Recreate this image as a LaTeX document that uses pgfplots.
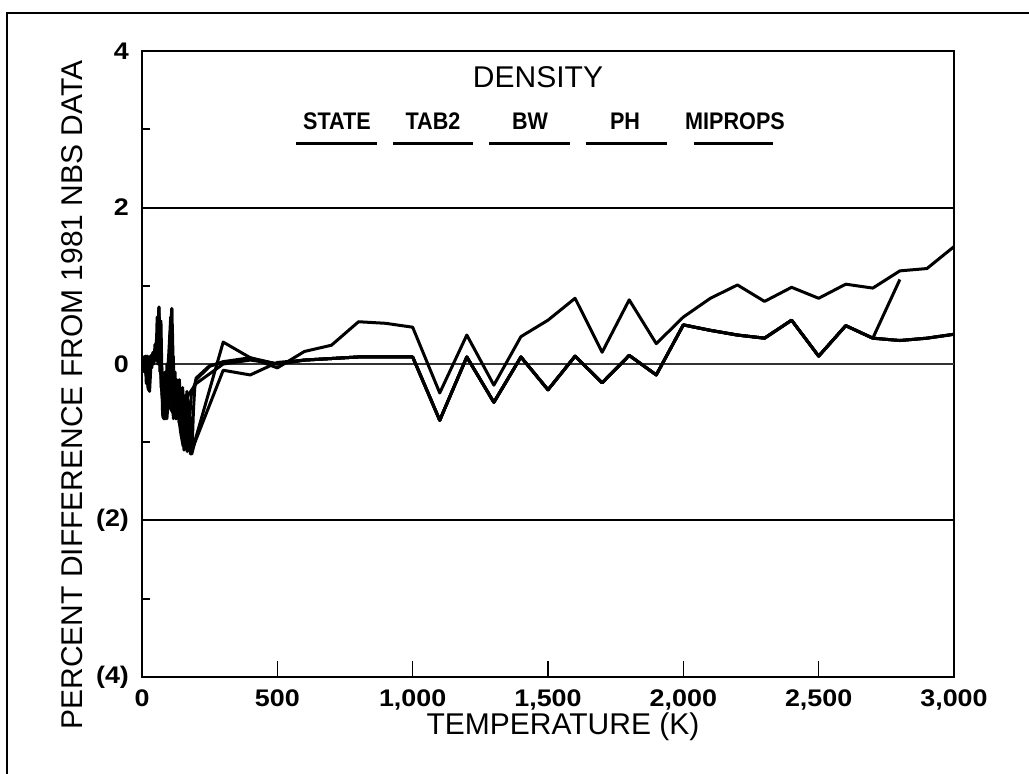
\documentclass[border=0pt]{standalone}
\usepackage{fontspec}
\setmainfont{Liberation Sans}
\newfontfamily\tickfont{Liberation Sans}[FakeStretch=1.12]
\newfontfamily\legfont{Liberation Sans}[FakeStretch=0.9]
\usepackage{pgfplots}
\pgfplotsset{compat=1.18}
\newcommand\tk[1]{\mbox{\tickfont\bfseries\fontsize{12}{12}\selectfont #1}}
\newcommand\legtxt[1]{{\legfont\bfseries\fontsize{12}{12}\selectfont #1}}
\begin{document}
\begin{tikzpicture}[x=0.5pt,y=0.5pt]
\useasboundingbox (0,0) rectangle (1029,774);
\draw[line width=1pt] (7,-60) -- (7,761) -- (1100,761);
\begin{axis}[
  at={(71pt,48.5pt)}, anchor=south west,
  scale only axis, width=406pt, height=313pt,
  xmin=0, xmax=3000, ymin=-4, ymax=4,
  axis line style={line width=1.1pt},
  xtick={0,500,1000,1500,2000,2500,3000},
  xticklabels={{\tk{0}},{\tk{500}},{\tk{1,000}},{\tk{1,500}},{\tk{2,000}},{\tk{2,500}},{\tk{3,000}}},
  ytick={-4,-2,0,2,4},
  yticklabels={{\tk{(4)}},{\tk{(2)}},{\tk{0}},{\tk{2}},{\tk{4}}},
  minor ytick={-3,-1,1,3},
  tick align=inside,
  xtick pos=left, ytick pos=left,
  major tick length=8pt, minor tick length=4pt,
  tick style={line width=0.8pt, black},
  xticklabel style={yshift=-3pt},
  yticklabel style={xshift=-3pt},
  clip=true,
]
\draw[line width=1pt] (axis cs:0,2) -- (axis cs:3000,2);
\draw[line width=1pt] (axis cs:0,-2) -- (axis cs:3000,-2);
\draw[line width=0.6pt, black!80] (axis cs:0,0) -- (axis cs:3000,0);
% series A (upper)
\addplot[black, line width=1.5pt, line join=round] coordinates {
(0,0.05)(8,-0.05)(15,0.1)(22,-0.3)(28,-0.35)(34,0.05)(42,0.1)(50,0.2)(58,0.45)(63,0.73)(67,0.0)(72,-0.3)(78,-0.6)(85,-0.7)(92,-0.4)(98,-0.2)(104,0.3)(110,0.71)(114,-0.2)(120,-0.55)(128,-0.45)(136,-0.7)(144,-0.9)(152,-1.05)(160,-0.8)(168,-1.1)(176,-0.9)(184,-1.15)
(200,-0.93)(300,0.28)(400,0.08)(500,-0.05)(600,0.16)(700,0.24)(800,0.54)(900,0.52)(1000,0.47)(1100,-0.37)(1200,0.37)(1300,-0.27)(1400,0.35)(1500,0.56)(1600,0.84)(1700,0.15)(1800,0.82)(1900,0.26)(2000,0.6)(2100,0.84)(2200,1.01)(2300,0.8)(2400,0.98)(2500,0.84)(2600,1.02)(2700,0.97)(2800,1.19)(2900,1.22)(3000,1.5)
};
% series B (lower)
\addplot[black, line width=1.5pt, line join=round] coordinates {
(0,0.1)(10,0.05)(18,-0.2)(25,-0.3)(32,0.1)(40,0.12)(48,0.05)(56,0.3)(62,0.65)(66,-0.1)(70,0.55)(76,-0.65)(82,-0.2)(88,-0.6)(95,-0.1)(100,0.2)(106,0.6)(110,-0.3)(116,-0.7)(124,-0.3)(130,-0.6)(138,-0.2)(146,-0.8)(154,-0.4)(160,-1.0)(166,-0.6)(172,-1.1)(180,-0.7)
(190,-1.05)(300,-0.08)(400,-0.14)(500,0.02)(600,0.05)(700,0.07)(800,0.09)(900,0.09)(1000,0.09)(1100,-0.72)(1200,0.09)(1300,-0.49)(1400,0.09)(1500,-0.33)(1600,0.1)(1700,-0.24)(1800,0.11)(1900,-0.14)(2000,0.5)(2100,0.43)(2200,0.37)(2300,0.33)(2400,0.56)(2500,0.1)(2600,0.49)(2700,0.33)(2800,0.3)(2900,0.33)(3000,0.38)
};
% series C
\addplot[black, line width=1.5pt, line join=round] coordinates {
(0,0.0)(12,0.1)(20,-0.15)(30,0.05)(40,0.1)(52,0.05)(60,0.2)(68,0.4)(74,-0.2)(80,-0.7)(86,-0.3)(92,-0.7)(100,-0.3)(108,0.1)(112,0.5)(118,-0.5)(126,-0.7)(134,-0.35)(142,-0.6)(150,-0.3)(158,-0.75)(166,-0.35)(174,-0.8)(182,-0.4)
(200,-0.2)(250,-0.03)(300,0.03)(400,0.08)(500,0.0)(600,0.05)(700,0.07)(800,0.09)(900,0.09)(1000,0.09)(1100,-0.72)(1200,0.09)(1300,-0.49)(1400,0.09)(1500,-0.33)(1600,0.1)(1700,-0.24)(1800,0.11)(1900,-0.14)(2000,0.5)(2100,0.43)(2200,0.37)(2300,0.33)(2400,0.56)(2500,0.1)(2600,0.49)(2700,0.33)(2800,1.08)
};
% series D
\addplot[black, line width=1.5pt, line join=round] coordinates {
(0,0.05)(10,-0.1)(20,0.1)(30,0.0)(45,0.1)(60,0.05)(70,0.1)(80,-0.55)(90,-0.65)(100,-0.5)(110,-0.6)(120,-0.65)(130,-0.5)(140,-0.68)(150,-0.45)(160,-0.55)(170,-0.4)(180,-0.35)
(200,-0.25)(300,0.0)(400,0.05)(500,0.0)(600,0.05)(700,0.07)(800,0.09)(900,0.09)(1000,0.09)(1100,-0.72)(1200,0.09)(1300,-0.49)(1400,0.09)(1500,-0.33)(1600,0.1)(1700,-0.24)(1800,0.11)(1900,-0.14)(2000,0.5)(2100,0.43)(2200,0.37)(2300,0.33)(2400,0.56)(2500,0.1)(2600,0.49)(2700,0.33)(2800,0.3)(2900,0.33)(3000,0.38)
};
% series E
\addplot[black, line width=1.5pt, line join=round] coordinates {
(0,-0.05)(4,0.08)(8,-0.1)(12,0.05)(16,-0.25)(20,0.0)(24,-0.33)(28,0.02)(32,0.1)(36,-0.05)(40,0.15)(44,0.0)(48,0.25)(52,0.05)(56,0.6)(59,0.0)(62,0.72)(65,0.1)(68,0.5)(71,-0.3)(74,-0.1)(77,-0.68)(80,-0.2)(83,-0.7)(86,-0.1)(89,-0.65)(92,0.0)(95,-0.6)(98,-0.05)(101,-0.5)(104,0.4)(107,-0.4)(110,0.7)(113,-0.3)(116,0.1)(119,-0.6)(122,-0.1)(125,-0.7)(128,-0.2)(131,-0.65)(134,-0.3)(137,-0.75)(140,-0.35)(143,-0.8)(146,-0.5)(149,-0.95)(152,-0.5)(155,-1.1)(158,-0.6)(161,-1.0)(164,-0.55)(167,-1.12)(170,-0.7)(173,-1.05)(176,-0.6)(179,-1.15)(182,-0.8)(185,-1.1)(190,-0.6)(195,-0.3)
(200,-0.18)(250,-0.02)(300,0.02)(400,0.07)(500,0.0)(600,0.05)(700,0.07)(800,0.09)(900,0.09)(1000,0.09)(1100,-0.72)(1200,0.09)(1300,-0.49)(1400,0.09)(1500,-0.33)(1600,0.1)(1700,-0.24)(1800,0.11)(1900,-0.14)(2000,0.5)(2100,0.43)(2200,0.37)(2300,0.33)(2400,0.56)(2500,0.1)(2600,0.49)(2700,0.33)(2800,0.3)(2900,0.33)(3000,0.38)
};
\end{axis}
\node[rotate=90, font=\fontsize{15}{15}\selectfont] at (72,379) {PERCENT DIFFERENCE FROM 1981 NBS DATA};
\node[font=\fontsize{15}{15}\selectfont] at (563,47) {TEMPERATURE (K)};
\node[font=\fontsize{15}{15}\selectfont] at (538,697) {DENSITY};
\node at (337,653) {\legtxt{STATE}};
\node at (433,653) {\legtxt{TAB2}};
\node at (530,653) {\legtxt{BW}};
\node at (625,653) {\legtxt{PH}};
\node at (735,653) {\legtxt{MIPROPS}};
\draw[line width=1.5pt] (296,630) -- (377,630);
\draw[line width=1.5pt] (393,630) -- (473,630);
\draw[line width=1.5pt] (489,630) -- (570,630);
\draw[line width=1.5pt] (586,630) -- (667,630);
\draw[line width=1.5pt] (694,630) -- (773,630);
\end{tikzpicture}
\end{document}
